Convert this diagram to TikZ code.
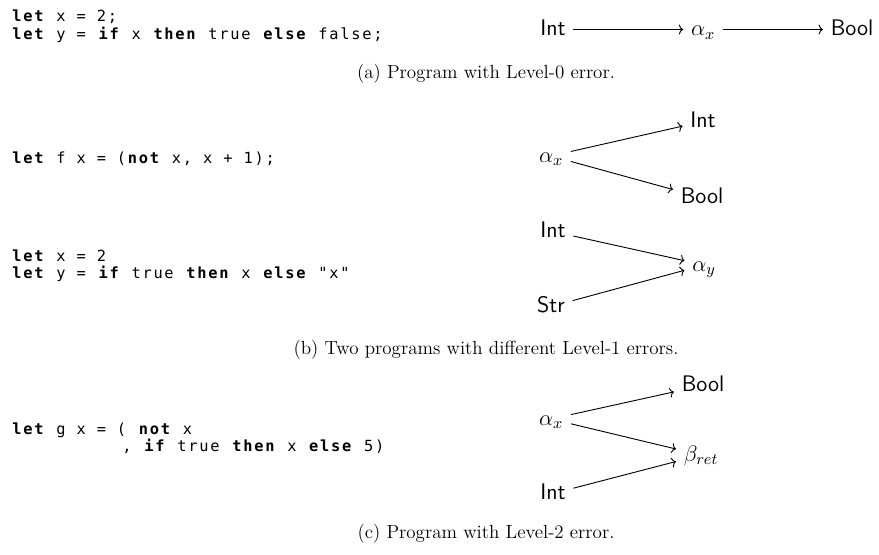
\documentclass[tikz,border=0pt]{standalone}
\usepackage{fix-cm}
\usepackage{fontspec}
\usepackage{amsmath}
\usetikzlibrary{arrows.meta}
\newfontfamily\codefont{DejaVu Sans Mono}[LetterSpace=11.5]
\newcommand{\kw}[1]{\textbf{#1}}

\begin{document}
\begin{tikzpicture}[x=0.6pt, y=-0.6pt,
                    ty/.style={font=\fontsize{13.5}{16}\selectfont\sffamily, inner sep=4.5pt,
                               text height=9.5pt, text depth=2pt},
                    flow/.style={-{To[length=2.6pt,width=6pt]}, line width=0.55pt},
                    code/.style={anchor=base west, inner sep=0pt,
                                 font=\codefont\fontsize{9.2}{11}\selectfont},
                    subcap/.style={anchor=base, inner sep=0pt, font=\fontsize{11.4}{14}\selectfont}]
  \useasboundingbox (0,0) rectangle (879,554);

  \node[code] (a1) at (12,22) {\kw{let} x = 2;};
  \node[code] (a2) at (12,39.5) {\kw{let} y = \kw{if} x \kw{then} true \kw{else} false;};
  \node[ty] (aint) at (553,29.5) {Int};
  \node[ty] (aalpha) at (703,29.5) {$\alpha_x$};
  \node[ty] (abool) at (852,29.5) {Bool};
  \draw[flow] (aint) -- (aalpha);
  \draw[flow] (aalpha) -- (abool);
  \node[subcap] (acap) at (486,79) {(a) Program with Level-0 error.};

  \node[code] (b1) at (12,163) {\kw{let} f x = (\kw{not} x, x + 1);};
  \node[ty] (balpha) at (551,156) {$\alpha_x$};
  \node[ty] (bint) at (703,121.5) {Int};
  \node[ty] (bbool) at (702,197.5) {Bool};
  \draw[flow] (balpha) -- (bint);
  \draw[flow] (balpha) -- (bbool);

  \node[code] (b2) at (12,261) {\kw{let} x = 2};
  \node[code] (b3) at (12,278.5) {\kw{let} y = \kw{if} true \kw{then} x \kw{else} "x"};
  \node[ty] (bint2) at (553,231.5) {Int};
  \node[ty] (balphay) at (704,265) {$\alpha_y$};
  \node[ty] (bstr) at (551,306.5) {Str};
  \draw[flow] (bint2) -- (balphay);
  \draw[flow] (bstr) -- (balphay);
  \node[subcap] (bcap) at (486,354) {(b) Two programs with different Level-1 errors.};

  \node[code] (c1) at (12,434) {\kw{let} g x = ( \kw{not} x};
  \node[code] (c2) at (122,451.5) {, \kw{if} true \kw{then} x \kw{else} 5)};
  \node[ty] (cbool) at (703,385.5) {Bool};
  \node[ty] (calpha) at (551,419) {$\alpha_x$};
  \node[ty] (cbeta) at (701,455) {$\beta_{ret}$};
  \node[ty] (cint) at (553,493.5) {Int};
  \draw[flow] (calpha) -- (cbool);
  \draw[flow] (calpha) -- (cbeta);
  \draw[flow] (cint) -- (cbeta);
  \node[subcap] (ccap) at (486,538) {(c) Program with Level-2 error.};
\end{tikzpicture}
\end{document}
